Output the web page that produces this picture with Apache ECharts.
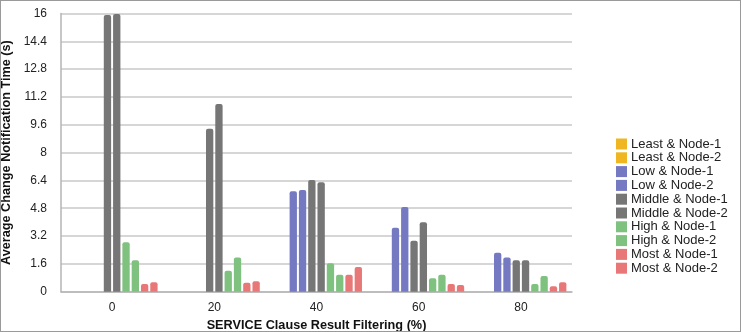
<!DOCTYPE html>
<html>
<head>
<meta charset="utf-8">
<script src="https://cdn.jsdelivr.net/npm/echarts@6/dist/echarts.min.js"></script>
<style>
html,body{margin:0;padding:0;background:#fff;}
#c{width:741px;height:332px;box-sizing:border-box;border:1px solid #9a9a9a;}
</style>
</head>
<body>
<div id="c"></div>
<script>
const categories = ['0', '20', '40', '60', '80'];
const seriesNames = ['Least & Node-1','Least & Node-2','Low & Node-1','Low & Node-2','Middle & Node-1','Middle & Node-2','High & Node-1','High & Node-2','Most & Node-1','Most & Node-2'];
const leastNode1 = [0, 0, 0, 0, 0];
const leastNode2 = [0, 0, 0, 0, 0];
const lowNode1 = [0, 0, 5.77, 3.68, 2.24];
const lowNode2 = [0, 0, 5.85, 4.87, 1.96];
const middleNode1 = [15.91, 9.37, 6.42, 2.93, 1.81];
const middleNode2 = [15.97, 10.79, 6.29, 3.99, 1.81];
const highNode1 = [2.84, 1.21, 1.63, 0.77, 0.44];
const highNode2 = [1.81, 1.96, 0.98, 0.98, 0.90];
const mostNode1 = [0.44, 0.52, 0.98, 0.44, 0.31];
const mostNode2 = [0.54, 0.60, 1.42, 0.39, 0.54];
const yTicks = ['0','1.6','3.2','4.8','6.4','8','9.6','11.2','12.8','14.4','16'];

const allValues = [leastNode1, leastNode2, lowNode1, lowNode2, middleNode1, middleNode2, highNode1, highNode2, mostNode1, mostNode2];
const colors = ['#efb622','#efb622','#7479c1','#7479c1','#767676','#767676','#7fc17f','#7fc17f','#e87878','#e87878'];

const chart = echarts.init(document.getElementById('c'), null, {renderer: 'canvas'});
const font = '"Liberation Sans", Arial, sans-serif';
chart.setOption({
  animation: false,
  color: colors,
  grid: {left: 60, right: 168, top: 12.5, bottom: 39.3, containLabel: false, outerBoundsMode: 'none'},
  legend: {
    orient: 'vertical',
    left: 610,
    top: 131.5,
    itemWidth: 11,
    itemHeight: 11,
    itemGap: 0.8,
    icon: 'rect',
    textStyle: {fontFamily: font, fontSize: 13, color: '#222', padding: [0,0,0,-1]},
    data: seriesNames
  },
  xAxis: {
    type: 'category',
    data: categories,
    name: 'SERVICE Clause Result Filtering (%)',
    nameLocation: 'middle',
    nameGap: 26,
    nameTextStyle: {fontFamily: font, fontSize: 12.7, fontWeight: 'bold', color: '#111'},
    axisLine: {lineStyle: {color: '#b5b5b5', width: 1.5}},
    axisTick: {show: false},
    axisLabel: {fontFamily: font, fontSize: 12, color: '#222', margin: 10}
  },
  yAxis: {
    type: 'value',
    min: 0,
    max: 16,
    interval: 1.6,
    name: 'Average Change Notification Time (s)',
    nameLocation: 'middle',
    nameGap: 36,
    nameTextStyle: {fontFamily: font, fontSize: 12.7, fontWeight: 'bold', color: '#111'},
    axisLine: {show: true, lineStyle: {color: '#b5b5b5', width: 1.5}},
    axisTick: {show: false},
    axisLabel: {
      fontFamily: font, fontSize: 12, color: '#222', margin: 14,
      formatter: function (v) { const i = Math.round(v / 1.6); return yTicks[i] !== undefined ? yTicks[i] : ''; }
    },
    splitLine: {lineStyle: {color: '#c9c9c9', width: 1.5}}
  },
  series: seriesNames.map((n, i) => ({
    name: n,
    type: 'bar',
    data: allValues[i],
    barGap: '27%',
    barCategoryGap: '11%',
    itemStyle: {color: colors[i], borderRadius: [2, 2, 0, 0]}
  }))
});
</script>
</body>
</html>
